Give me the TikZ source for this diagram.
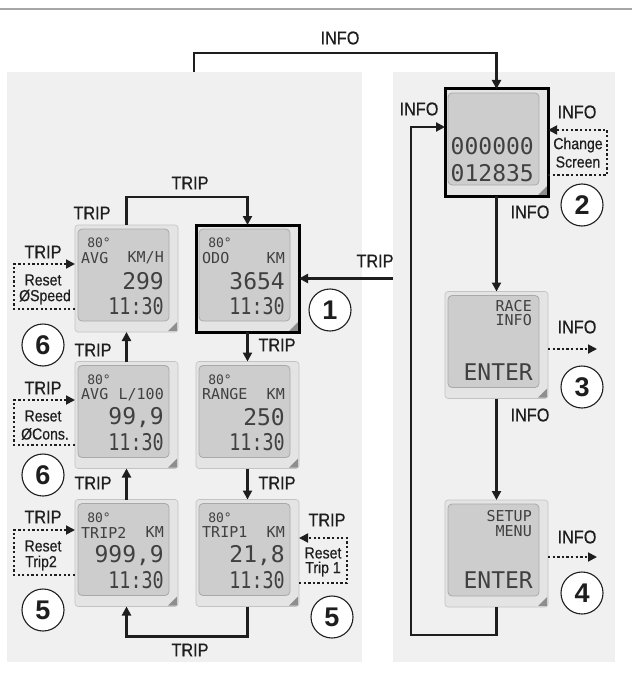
\documentclass[tikz,border=0pt]{standalone}
\usepackage{graphicx}
\usepackage{fontspec}
\setmainfont{Liberation Sans}
\newfontfamily\lblfont[FakeBold=0.5]{Liberation Sans}
\newfontfamily\lcdfont{DejaVu Sans Mono}
\usetikzlibrary{arrows.meta,calc}
\definecolor{panel}{HTML}{F0F0F0}
\definecolor{lcdout}{HTML}{E4E4E4}
\definecolor{lcdin}{HTML}{CDCDCD}
\definecolor{lcdedge}{HTML}{A9A9A9}
\definecolor{lcdbevel}{HTML}{8E8E8E}
\definecolor{lcdtxtc}{HTML}{404040}
\definecolor{ink}{HTML}{1E1E1E}
\newcommand\cnd[1]{\scalebox{0.88}[1]{#1}}
\newcommand\tnar[1]{\scalebox{0.8}[1]{#1}}
\newcommand\lcdfour[6]{%
  \node[lcds] (#1-a) at ($(#1.north west)+(24,18)$) {#2};
  \node[lcdm, anchor=west] (#1-b) at ($(#1.north west)+(6,33)$) {#3};
  \node[lcdm, anchor=east] (#1-c) at ($(#1.north west)+(89,33)$) {#4};
  \node[lcdb, anchor=east] (#1-d) at ($(#1.north west)+(89,56)$) {#5};
  \node[lcdb, anchor=east] (#1-e) at ($(#1.north west)+(89,81)$) {\tnar{#6}};
}
\begin{document}
\begin{tikzpicture}[x=1pt,y=-1pt,
  lcd/.style={minimum width=103pt, minimum height=107pt, inner sep=0pt, outer sep=0pt,
    fill=lcdout, draw=lcdedge!70, line width=0.6pt, rounded corners=3pt,
    path picture={
      \filldraw[fill=lcdin, draw=lcdedge, line width=0.8pt, rounded corners=4pt]
        ([shift={(3pt,-4pt)}]path picture bounding box.north west) rectangle
        ([shift={(-9pt,11pt)}]path picture bounding box.south east);
      \fill[lcdbevel, sharp corners]
        ([shift={(-10pt,1pt)}]path picture bounding box.south east) --
        ([shift={(-1pt,1pt)}]path picture bounding box.south east) --
        ([shift={(-1pt,10pt)}]path picture bounding box.south east) -- cycle;
    }},
  sel/.style={draw=black, line width=3pt, sharp corners},
  conn/.style={draw=ink, line width=2.1pt},
  arr/.style={conn, -{Triangle[length=9pt,width=9pt]}},
  dotarr/.style={draw=ink, line width=1.8pt, dash pattern=on 2.3pt off 2.3pt,
    -{Triangle[length=9pt,width=9pt]}},
  lbl/.style={font=\lblfont\fontsize{18.5}{18.5}\selectfont, text=ink, inner sep=0pt},
  rst/.style={font=\lblfont\fontsize{16}{16}\selectfont, text=ink, inner sep=0pt},
  num/.style={circle, draw=ink, line width=1.1pt, fill=white, minimum size=42pt,
    inner sep=0pt, font=\bfseries\fontsize{27}{27}\selectfont, text=ink},
  lcds/.style={font=\lcdfont\fontsize{13}{13}\selectfont, text=lcdtxtc, inner sep=0pt},
  lcdm/.style={font=\lcdfont\fontsize{15}{15}\selectfont, text=lcdtxtc, inner sep=0pt},
  lcdb/.style={font=\lcdfont\fontsize{23}{23}\selectfont, text=lcdtxtc, inner sep=0pt},
]
\useasboundingbox (0,0) rectangle (632,687);
\fill[white] (0,0) rectangle (632,687);
\draw[gray!70, line width=1.2pt] (0,9) -- (632,9);

% panels
\fill[panel] (7,72) rectangle (362,662);
\fill[panel] (393,72) rectangle (615,662);

% screens, left panel
\node[lcd] (avg)   at (126.5,278.5) {};
\node[lcd,sel] (odo) at (247.5,278.5) {};
\node[lcd] (cons)  at (126.5,415) {};
\node[lcd] (range) at (247.5,415) {};
\node[lcd] (trip2) at (126.5,553) {};
\node[lcd] (trip1) at (247.5,553) {};

% screens, right panel
\node[lcd,sel] (odoinfo) at (496.5,142.5) {};
\node[lcd] (race)  at (496.5,345) {};
\node[lcd] (setup) at (496.5,553.5) {};

% screen contents
\lcdfour{avg}{80°}{AVG}{KM/H}{299}{11:30}
\lcdfour{odo}{80°}{ODO}{KM}{3654}{11:30}
\lcdfour{cons}{80°}{AVG}{L/100}{99,9}{11:30}
\lcdfour{range}{80°}{RANGE}{KM}{250}{11:30}
\lcdfour{trip2}{80°}{TRIP2}{KM}{999,9}{11:30}
\lcdfour{trip1}{80°}{TRIP1}{KM}{21,8}{11:30}

\node[lcdb, anchor=east] (oi-a) at ($(odoinfo.north west)+(89,57)$) {000000};
\node[lcdb, anchor=east] (oi-b) at ($(odoinfo.north west)+(89,84)$) {012835};

\node[lcdm, anchor=east] (race-a) at ($(race.north west)+(87,15)$) {RACE};
\node[lcdm, anchor=east] (race-b) at ($(race.north west)+(87,29)$) {INFO};
\node[lcdb, anchor=east] (race-c) at ($(race.north west)+(88,81)$) {ENTER};

\node[lcdm, anchor=east] (setup-a) at ($(setup.north west)+(87,16)$) {SETUP};
\node[lcdm, anchor=east] (setup-b) at ($(setup.north west)+(87,31)$) {MENU};
\node[lcdb, anchor=east] (setup-c) at ($(setup.north west)+(88,80)$) {ENTER};

% connectors
\coordinate (infostart) at (194,72);
\coordinate (tripin) at (393,278.5);
\draw[arr] (infostart) -- ++(0,-19) -| (odoinfo.north);
\draw[arr] (avg.north) -- ++(0,-28) -| (odo.north);
\draw[arr] (tripin) -- (odo.east);
\draw[arr] (odo.south) -- (range.north);
\draw[arr] (range.south) -- (trip1.north);
\draw[arr] (trip1.south) -- ++(0,30) -| (trip2.south);
\draw[arr] (trip2.north) -- (cons.south);
\draw[arr] (cons.north) -- (avg.south);

\draw[arr] (odoinfo.south) -- (race.north);
\draw[arr] (race.south) -- (setup.north);
\draw[arr] (setup.south) -- ++(0,28) -- ++(-85.5,0) |- ([yshift=15.5pt]odoinfo.west);
\draw[dotarr] ([yshift=-4pt]race.east) -- ++(49,0);
\draw[dotarr] ([yshift=-3.5pt]setup.east) -- ++(49,0);

% reset boxes
\draw[dotarr] (avg.west |- 0,309) -- (14,309) -- (14,264) -- (avg.west |- 0,264);
\draw[dotarr] (cons.west |- 0,445) -- (14,445) -- (14,400) -- (cons.west |- 0,400);
\draw[dotarr] (trip2.west |- 0,575) -- (14,575) -- (14,530) -- (trip2.west |- 0,530);
\draw[dotarr] (trip1.east |- 0,583) -- (347,583) -- (347,538) -- (trip1.east |- 0,538);
\draw[dotarr] (odoinfo.east |- 0,175) -- (607,175) -- (607,130) -- (odoinfo.east |- 0,130);

\node[rst] (r1a) at (43,280) {\cnd{Reset}};
\node[rst] (r1b) at (45,297) {\cnd{ØSpeed}};
\node[rst] (r2a) at (43,416) {\cnd{Reset}};
\node[rst] (r2b) at (45,434) {\cnd{ØCons.}};
\node[rst] (r3a) at (43,546) {\cnd{Reset}};
\node[rst] (r3b) at (41,563) {\cnd{Trip2}};
\node[rst] (r4a) at (323,553) {\cnd{Reset}};
\node[rst] (r4b) at (323,569) {\cnd{Trip 1}};
\node[rst] (r5a) at (578,145) {\cnd{Change}};
\node[rst] (r5b) at (578,162) {\cnd{Screen}};

% labels
\node[lbl] (i1) at (340,38) {\cnd{INFO}};
\node[lbl] (i2) at (419,109) {\cnd{INFO}};
\node[lbl] (i3) at (577,112) {\cnd{INFO}};
\node[lbl] (i4) at (530,212) {\cnd{INFO}};
\node[lbl] (i5) at (577,327) {\cnd{INFO}};
\node[lbl] (i6) at (530,415) {\cnd{INFO}};
\node[lbl] (i7) at (577,537) {\cnd{INFO}};

\node[lbl] (t1) at (190,183) {\cnd{TRIP}};
\node[lbl] (t2) at (92,213) {\cnd{TRIP}};
\node[lbl] (t3) at (43,252) {\cnd{TRIP}};
\node[lbl] (t4) at (375,261) {\cnd{TRIP}};
\node[lbl] (t5) at (93,350) {\cnd{TRIP}};
\node[lbl] (t6) at (277,345) {\cnd{TRIP}};
\node[lbl] (t7) at (43,388) {\cnd{TRIP}};
\node[lbl] (t8) at (93,483) {\cnd{TRIP}};
\node[lbl] (t9) at (277,483) {\cnd{TRIP}};
\node[lbl] (t10) at (43,517) {\cnd{TRIP}};
\node[lbl] (t11) at (327,520) {\cnd{TRIP}};
\node[lbl] (t12) at (190,650) {\cnd{TRIP}};

% step numbers
\node[num] (n1) at (330,310) {1};
\node[num] (n2) at (582,205) {2};
\node[num] (n3) at (582,387) {3};
\node[num] (n4) at (582,593) {4};
\node[num] (n5a) at (43,610) {5};
\node[num] (n5b) at (332,617) {5};
\node[num] (n6a) at (43,345) {6};
\node[num] (n6b) at (43,475) {6};
\end{tikzpicture}
\end{document}
